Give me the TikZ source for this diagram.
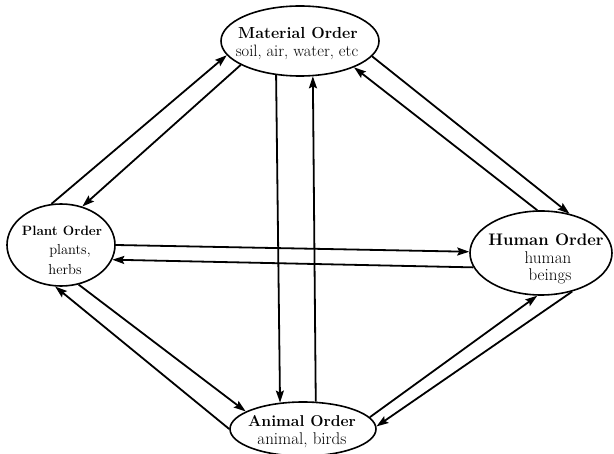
\documentclass[tikz,border=0pt]{standalone}
\usetikzlibrary{arrows.meta,shapes.geometric}
\begin{document}
\begin{tikzpicture}[x=1pt,y=-1pt,
  orderbox/.style={ellipse, draw, line width=1.6pt, inner sep=0pt},
  ttl/.style={anchor=base, inner sep=0pt, font=\bfseries\fontsize{#1}{#1}\selectfont},
  sub/.style={anchor=base, inner sep=0pt, font=\fontsize{#1}{#1}\selectfont},
  link/.style={line width=1.8pt, -{Stealth[length=12pt,width=8pt,inset=2pt]}}]
\useasboundingbox (0,0) rectangle (614,454);
% ellipses
\node[orderbox, minimum width=158pt, minimum height=70pt] (mat) at (300,41) {};
\node[orderbox, minimum width=108pt, minimum height=82pt] (pla) at (61,245) {};
\node[orderbox, minimum width=142pt, minimum height=84pt] (hum) at (541,253) {};
\node[orderbox, minimum width=146pt, minimum height=54pt] (ani) at (303,429) {};
% texts
\node[ttl=16] (matA) at (298,39) {Material Order};
\node[sub=16.5] (matB) at (297,57) {soil, air, water, etc};
\node[ttl=13.5] (plaA) at (62,236) {Plant Order};
\node[sub=14.5] (plaB) at (70,255) {plants,};
\node[sub=14.5] (plaC) at (65,275) {herbs};
\node[ttl=16.7] (humA) at (546,246) {Human Order};
\node[sub=17] (humB) at (548,264) {human};
\node[sub=17] (humC) at (550,281) {beings};
\node[ttl=15.7] (aniA) at (302,427) {Animal Order};
\node[sub=17] (aniB) at (302,445) {animal, birds};
% connectors
\draw[link] (pla.103) -- (mat.191.6);
\draw[link] (mat.202.6) -- (pla.61);
\draw[link] (mat.-12) -- (hum.54);
\draw[link] (hum.95) -- (mat.-26.6);
\draw[link] (pla.-66) -- (ani.163.9);
\draw[link] (ani.180.8) -- (pla.-98);
\draw[link] (ani.10.4) -- (hum.-95);
\draw[link] (hum.-51) -- (ani.2);
\draw[link] (mat.235.5) -- (ani.131.9);
\draw[link] (ani.65.7) -- (mat.-70.9);
\draw[link] (pla.0) -- (hum.179);
\draw[link] (hum.192.7) -- (pla.-16.6);
\end{tikzpicture}
\end{document}
